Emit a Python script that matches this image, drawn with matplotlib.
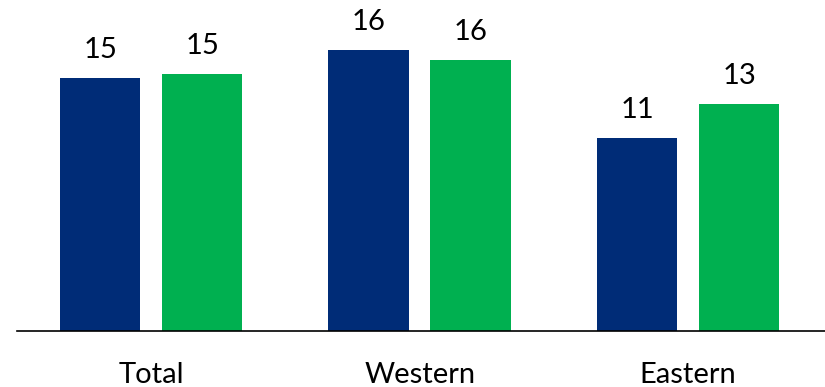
import matplotlib
matplotlib.use("Agg")
import matplotlib.pyplot as plt
import numpy as np

# data
categories = ["Total", "Western", "Eastern"]
series1 = [14.6, 16.2, 11.1]   # dark blue
series2 = [14.8, 15.6, 13.1]   # green
colors = ["#002C77", "#00B050"]

plt.rcParams['font.family'] = ['Lato', 'DejaVu Sans']

fig = plt.figure(figsize=(8.25, 3.87), dpi=100)
ax = fig.add_axes([17/825, 56/387, 808/825, 331/387])

x = np.arange(len(categories))
w = 0.3
off = 0.19
b1 = ax.bar(x - off, series1, w, color=colors[0])
b2 = ax.bar(x + off, series2, w, color=colors[1])

for bars, vals in ((b1, series1), (b2, series2)):
    for rect, v in zip(bars, vals):
        ax.annotate("%d" % round(v), (rect.get_x() + rect.get_width()/2, rect.get_height()),
                    xytext=(0, 14.4), textcoords="offset points",
                    ha="center", va="baseline", fontsize=21, color="black")

for i, c in enumerate(categories):
    ax.annotate(c, (i, 0), xycoords=("data", "axes fraction"),
                xytext=(0, -37.4), textcoords="offset points",
                ha="center", va="baseline", fontsize=21, color="black")

ax.set_xlim(-0.5, 2.51)
ax.set_ylim(0, 19.08)
for s in ["top", "right", "left"]:
    ax.spines[s].set_visible(False)
ax.spines["bottom"].set_linewidth(1.2)
ax.spines["bottom"].set_color("black")
ax.set_xticks([])
ax.set_yticks([])

fig.savefig("out.png", dpi=100)
